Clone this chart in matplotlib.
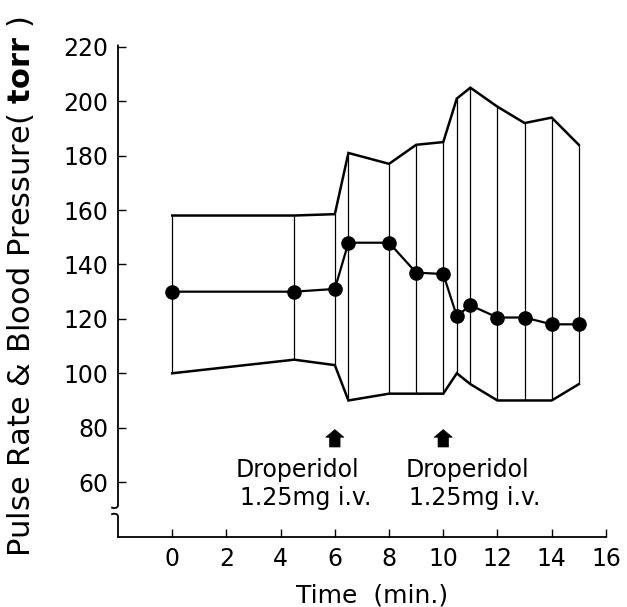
"""Pulse rate & blood pressure after droperidol — recreated chart."""
import matplotlib
matplotlib.use("Agg")
import matplotlib.pyplot as plt

# Data
times = [0, 4.5, 6, 6.5, 8, 9, 10, 10.5, 11, 12, 13, 14, 15]
systolic = [158, 158, 158.5, 181, 177, 184, 185, 201, 205, 198, 192, 194, 184]
mean_bp = [130, 130, 131, 148, 148, 137, 136.5, 121, 125, 120.5, 120.5, 118, 118]
diastolic = [100, 105, 103, 90, 92.5, 92.5, 92.5, 100, 96, 90, 90, 90, 96]

dose_times = [6, 10]
dose_names = ["Droperidol", "Droperidol"]
dose_amounts = ["1.25mg i.v.", "1.25mg i.v."]
# left edge of each caption (in minutes)
name_left = [2.35, 8.6]
amount_left = [2.5, 8.75]

x_ticks = [0, 2, 4, 6, 8, 10, 12, 14, 16]
y_ticks = [60, 80, 100, 120, 140, 160, 180, 200, 220]

BLACK = "#000000"

plt.rcParams["font.family"] = "DejaVu Sans"
plt.rcParams["mathtext.fontset"] = "dejavusans"

fig = plt.figure(figsize=(6.27, 6.07), dpi=100)
ax = fig.add_axes([0.1882, 0.1153, 0.779, 0.8097])

# envelope: upper and lower lines with thin verticals at each reading
ax.vlines(times, diastolic, systolic, color=BLACK, lw=0.9)
ax.plot(times, systolic, color=BLACK, lw=1.8, solid_joinstyle="miter")
ax.plot(times, diastolic, color=BLACK, lw=1.8, solid_joinstyle="miter")
ax.plot(times, mean_bp, color=BLACK, lw=1.6, marker="o", ms=9.5)

ax.set_xlim(-2, 16.02)
ax.set_ylim(39.8, 220.5)
ax.set_xticks(x_ticks)
ax.set_yticks(y_ticks)
ax.tick_params(axis="both", direction="in", length=6, width=1.0,
               labelsize=17, colors=BLACK)
ax.tick_params(axis="x", pad=7)
ax.tick_params(axis="y", pad=7)

for side in ["top", "right", "left"]:
    ax.spines[side].set_visible(False)
ax.spines["bottom"].set_linewidth(1.3)

# broken left axis
x0 = -2
ax.plot([x0, x0, x0 - 0.05, x0 - 0.15, x0 - 0.22],
        [220.5, 51.2, 50.6, 50.4, 50.6], color=BLACK, lw=1.3, clip_on=False)
ax.plot([x0, x0, x0 - 0.05, x0 - 0.15, x0 - 0.22],
        [39.8, 47.6, 48.2, 48.4, 48.2], color=BLACK, lw=1.3, clip_on=False)

# dose arrows and labels
for t, name, amount, nx, ax_ in zip(dose_times, dose_names, dose_amounts,
                                    name_left, amount_left):
    ax.annotate("", xy=(t, 79.3), xytext=(t, 72.9),
                arrowprops=dict(arrowstyle="simple,head_width=1.3,head_length=0.55,tail_width=0.75",
                                fc=BLACK, ec=BLACK, lw=0.5, shrinkA=0, shrinkB=0))
    ax.text(nx, 64.4, name, fontsize=17, ha="left", va="center", color=BLACK)
    ax.text(ax_, 54.1, amount, fontsize=17, ha="left", va="center", color=BLACK)

fig.text(372 / 627, 1 - 595 / 607, "Time  (min.)", fontsize=18,
         ha="center", va="center", color=BLACK)
fig.text(21 / 627, 1 - 287 / 607, r"Pulse Rate & Blood Pressure( $\mathbf{torr}$ )",
         fontsize=22, rotation=90, ha="center", va="center", color=BLACK)

fig.savefig("out.png", dpi=100)
plt.close(fig)
